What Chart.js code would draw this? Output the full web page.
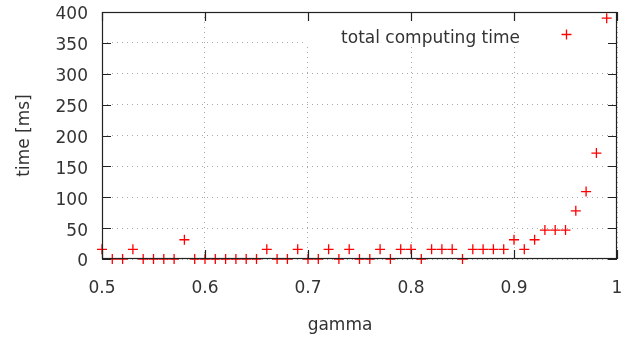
<!DOCTYPE html>
<html>
<head>
<meta charset="utf-8">
<script src="https://cdn.jsdelivr.net/npm/chart.js@4.4.0/dist/chart.umd.min.js"></script>
<style>
  html, body { margin: 0; padding: 0; background: #fff; }
  #wrap { width: 639px; height: 340px; }
</style>
</head>
<body>
<div id="wrap"><canvas id="timeChart" width="639" height="340"></canvas></div>
<script>
const gamma = [
    0.50, 0.51, 0.52, 0.53, 0.54, 0.55, 0.56, 0.57, 0.58, 0.59,
    0.60, 0.61, 0.62, 0.63, 0.64, 0.65, 0.66, 0.67, 0.68, 0.69,
    0.70, 0.71, 0.72, 0.73, 0.74, 0.75, 0.76, 0.77, 0.78, 0.79,
    0.80, 0.81, 0.82, 0.83, 0.84, 0.85, 0.86, 0.87, 0.88, 0.89,
    0.90, 0.91, 0.92, 0.93, 0.94, 0.95, 0.96, 0.97, 0.98, 0.99
];
const timeMs = [
    15.6, 0, 0, 15.6, 0, 0, 0, 0, 31.2, 0,
    0, 0, 0, 0, 0, 0, 15.6, 0, 0, 15.6,
    0, 0, 15.6, 0, 15.6, 0, 0, 15.6, 0, 15.6,
    15.6, 0, 15.6, 15.6, 15.6, 0, 15.6, 15.6, 15.6, 15.6,
    31.2, 15.6, 31.2, 46.8, 46.8, 46.8, 78, 109.2, 171.6, 390
];
const xTicks = [0.5, 0.6, 0.7, 0.8, 0.9, 1];
const xTickLabels = ['0.5', '0.6', '0.7', '0.8', '0.9', '1'];
const yTicks = [0, 50, 100, 150, 200, 250, 300, 350, 400];
const seriesLabel = 'total computing time';
const xTitle = 'gamma';
const yTitle = 'time [ms]';

const FONT = 'DejaVu Sans';
const FSIZE = 17;
const TEXT = '#333333';
const RED = '#ff0000';

function cross(ctx, x, y, r) {
    ctx.beginPath();
    ctx.moveTo(x - r, y);
    ctx.lineTo(x + r, y);
    ctx.moveTo(x, y - r);
    ctx.lineTo(x, y + r);
    ctx.stroke();
}

// gnuplot look: boxed frame, inward ticks, key top right, xlabel
const gnuplotFrame = {
    id: 'gnuplotFrame',
    beforeDatasetsDraw(chart) {
        const a = chart.chartArea;
        const ctx = chart.ctx;
        // the key hides the grid behind it
        ctx.save();
        ctx.fillStyle = '#fff';
        ctx.fillRect(305, a.top + 1, a.right - 306, 44 - a.top);
        ctx.restore();
    },
    afterDatasetsDraw(chart) {
        const a = chart.chartArea;
        const ctx = chart.ctx;
        const xs = chart.scales.x;
        const ys = chart.scales.y;
        const tl = 9;

        ctx.save();
        ctx.strokeStyle = '#222';
        ctx.lineWidth = 1.2;
        ctx.strokeRect(a.left + 0.5, a.top + 0.5, a.right - a.left - 1, a.bottom - a.top - 1);

        ctx.beginPath();
        xTicks.forEach(v => {
            const px = Math.round(xs.getPixelForValue(v)) + 0.5;
            ctx.moveTo(px, a.bottom);
            ctx.lineTo(px, a.bottom - tl);
            ctx.moveTo(px, a.top);
            ctx.lineTo(px, a.top + tl);
        });
        yTicks.forEach(v => {
            const py = Math.round(ys.getPixelForValue(v)) + 0.5;
            ctx.moveTo(a.left, py);
            ctx.lineTo(a.left + tl, py);
            ctx.moveTo(a.right, py);
            ctx.lineTo(a.right - tl, py);
        });
        ctx.stroke();

        // key
        ctx.fillStyle = TEXT;
        ctx.font = FSIZE + 'px "' + FONT + '"';
        ctx.textAlign = 'right';
        ctx.textBaseline = 'alphabetic';
        ctx.fillText(seriesLabel, 520, 43);
        ctx.strokeStyle = RED;
        ctx.lineWidth = 1.3;
        cross(ctx, 566.5, 34.5, 5);

        // x label, centred like gnuplot does it
        ctx.textAlign = 'center';
        ctx.fillText(xTitle, 340, 330);
        ctx.restore();
    }
};

const points = gamma.map((g, i) => ({ x: g, y: timeMs[i] }));

const ctx = document.getElementById('timeChart').getContext('2d');

const myChart = new Chart(ctx, {
    type: 'scatter',
    data: {
        datasets: [{
            label: seriesLabel,
            data: points,
            pointStyle: 'cross',
            pointRadius: 5,
            pointHoverRadius: 5,
            borderColor: RED,
            backgroundColor: RED,
            borderWidth: 1.3,
            clip: false
        }]
    },
    options: {
        responsive: false,
        animation: false,
        layout: {
            padding: { left: 0, right: 22, top: 12, bottom: 0 }
        },
        scales: {
            x: {
                type: 'linear',
                min: 0.5,
                max: 1,
                afterBuildTicks: s => { s.ticks = xTicks.map(v => ({ value: v })); },
                afterFit: s => { s.height = 81; s.paddingLeft = 0; s.paddingRight = 0; },
                ticks: {
                    autoSkip: false,
                    maxRotation: 0,
                    padding: 19,
                    color: TEXT,
                    font: { family: FONT, size: FSIZE },
                    callback: (v, i) => xTickLabels[i]
                },
                grid: { color: '#a8a8a8', lineWidth: 1, drawTicks: false },
                border: { display: false, dash: [1, 4] }
            },
            y: {
                min: 0,
                max: 400,
                afterBuildTicks: s => { s.ticks = yTicks.map(v => ({ value: v })); },
                afterFit: s => { s.width = 102; s.paddingTop = 0; s.paddingBottom = 0; },
                ticks: {
                    padding: 14,
                    labelOffset: 3,
                    color: TEXT,
                    font: { family: FONT, size: FSIZE }
                },
                grid: { color: '#a8a8a8', lineWidth: 1, drawTicks: false },
                border: { display: false, dash: [1, 4] },
                title: {
                    display: true,
                    text: yTitle,
                    color: TEXT,
                    font: { family: FONT, size: FSIZE },
                    padding: { top: 14, bottom: 0 }
                }
            }
        },
        plugins: {
            legend: { display: false },
            tooltip: { enabled: false }
        }
    },
    plugins: [gnuplotFrame]
});
</script>
</body>
</html>
